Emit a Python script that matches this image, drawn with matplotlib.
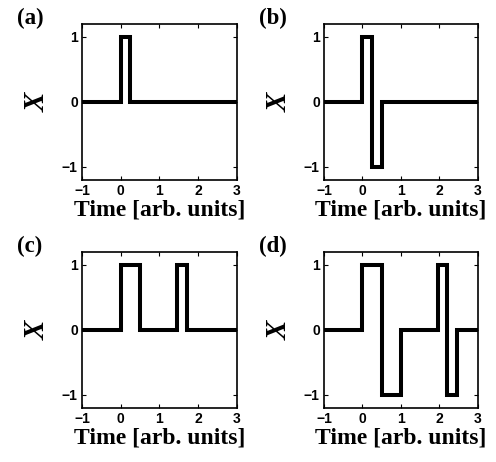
import numpy as np
import matplotlib.pyplot as plt

# step signals: value holds from each time until the next one
t_a = [-1, 0, 0.25, 3]
x_a = [0, 1, 0, 0]

t_b = [-1, 0, 0.25, 0.5, 3]
x_b = [0, 1, -1, 0, 0]

t_c = [-1, 0, 0.5, 1.45, 1.7, 3]
x_c = [0, 1, 0, 1, 0, 0]

t_d = [-1, 0, 0.5, 1.0, 1.95, 2.2, 2.45, 3]
x_d = [0, 1, -1, 0, 1, -1, 0, 0]

panel_labels = ['(a)', '(b)', '(c)', '(d)']
x_ticks = [-1, 0, 1, 2, 3]
y_ticks = [-1, 0, 1]

fig = plt.figure(figsize=(4.96, 4.62), dpi=100)

positions = [
    [0.1653, 0.6104, 0.3125, 0.3377],
    [0.6532, 0.6104, 0.3105, 0.3377],
    [0.1653, 0.1169, 0.3125, 0.3377],
    [0.6532, 0.1169, 0.3105, 0.3377],
]
signals = [(t_a, x_a), (t_b, x_b), (t_c, x_c), (t_d, x_d)]

for pos, (t, x), lab in zip(positions, signals, panel_labels):
    ax = fig.add_axes(pos)
    ax.step(t, x, where='post', color='black', linewidth=2.9,
            solid_joinstyle='miter')
    ax.set_xlim(-1, 3)
    ax.set_ylim(-1.2, 1.2)
    ax.set_xticks(x_ticks)
    ax.set_yticks(y_ticks)
    ax.tick_params(direction='in', top=True, right=True, length=3,
                   width=0.8, pad=3)
    for tl in ax.get_xticklabels() + ax.get_yticklabels():
        tl.set_fontfamily('Liberation Sans')
        tl.set_fontweight('bold')
        tl.set_fontsize(10)
    for s in ax.spines.values():
        s.set_linewidth(1.2)
    ax.set_xlabel('Time [arb. units]', family='Liberation Serif',
                  fontweight='bold', fontsize=17, labelpad=1)
    ax.set_ylabel('X', family='Liberation Serif', style='italic',
                  fontweight='bold', fontsize=21, labelpad=8)
    fig.text(pos[0] - 0.132, pos[1] + pos[3] - 0.012, lab,
             family='Liberation Serif', fontweight='bold', fontsize=16.5,
             va='bottom', ha='left')

fig.savefig('out.png', dpi=100)
